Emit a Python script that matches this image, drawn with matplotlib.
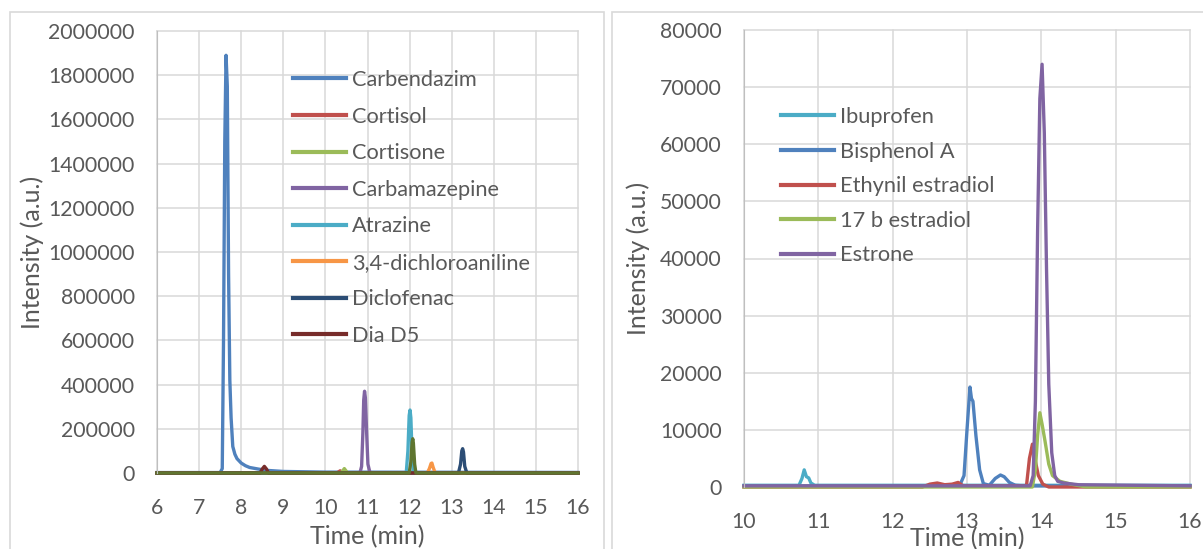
import matplotlib.pyplot as plt
from matplotlib.patches import Rectangle

# ---- left chart data (time in min, intensity in a.u.) ----
carbendazim_t = [6, 7.5, 7.55, 7.58, 7.61, 7.64, 7.67, 7.70, 7.73, 7.76, 7.8, 7.85, 7.9, 8.0, 8.1, 8.2, 8.4, 8.6, 9.0, 10, 16]
carbendazim_y = [2000, 2000, 20000, 600000, 1500000, 1890000, 1750000, 900000, 420000, 250000, 120000, 85000, 65000, 45000, 33000, 25000, 18000, 12000, 7000, 4000, 2500]
cortisol_t = [6, 10.27, 10.32, 10.35, 10.38, 10.43, 16]
cortisol_y = [0, 0, 6000, 10000, 6000, 0, 0]
cortisone_t = [6, 10.37, 10.42, 10.45, 10.48, 10.53, 16]
cortisone_y = [0, 0, 12000, 20000, 12000, 0, 0]
carbamazepine_t = [6, 10.82, 10.86, 10.89, 10.91, 10.93, 10.95, 10.98, 11.01, 11.06, 16]
carbamazepine_y = [0, 0, 30000, 180000, 330000, 370000, 340000, 180000, 40000, 0, 0]
atrazine_t = [6, 11.92, 11.96, 11.99, 12.01, 12.03, 12.06, 12.09, 16]
atrazine_y = [0, 0, 100000, 260000, 285000, 250000, 80000, 0, 0]
dca_t = [6, 12.42, 12.47, 12.51, 12.53, 12.56, 12.61, 16]
dca_y = [0, 0, 20000, 43000, 45000, 25000, 0, 0]
diclofenac_t = [6, 13.16, 13.21, 13.24, 13.26, 13.28, 13.31, 13.36, 16]
diclofenac_y = [0, 0, 40000, 100000, 110000, 95000, 30000, 0, 0]
diad5_t = [6, 8.45, 8.5, 8.55, 8.6, 8.65, 16]
diad5_y = [0, 0, 18000, 30000, 18000, 0, 0]
olive_t = [6, 11.99, 12.03, 12.06, 12.075, 12.09, 12.12, 12.15, 16]
olive_y = [0, 0, 50000, 140000, 155000, 135000, 40000, 0, 0]

# ---- right chart data ----
ibuprofen_t = [10, 10.74, 10.78, 10.81, 10.84, 10.87, 10.9, 10.95, 16]
ibuprofen_y = [300, 300, 1500, 3000, 1800, 1600, 700, 300, 300]
bpa_t = [10, 12.9, 12.96, 13.0, 13.04, 13.06, 13.08, 13.12, 13.17, 13.22, 13.3, 13.38, 13.45, 13.5, 13.57, 13.65, 13.75, 16]
bpa_y = [200, 200, 2000, 10000, 17500, 15500, 15000, 9000, 3000, 600, 300, 1500, 2100, 1800, 800, 300, 200, 200]
ee_t = [10, 12.4, 12.5, 12.6, 12.7, 12.8, 12.88, 12.95, 13.8, 13.84, 13.88, 13.92, 13.96, 14.02, 14.1, 16]
ee_y = [0, 0, 500, 700, 400, 500, 800, 200, 200, 5000, 7500, 4500, 2000, 500, 0, 0]
e2_t = [10, 13.88, 13.92, 13.95, 13.98, 14.01, 14.05, 14.1, 14.15, 14.25, 14.4, 14.6, 16]
e2_y = [0, 0, 3000, 9000, 13000, 11000, 8000, 4000, 2000, 1000, 500, 0, 0]
estrone_t = [10, 13.85, 13.89, 13.92, 13.95, 13.98, 14.01, 14.04, 14.07, 14.1, 14.14, 14.18, 14.22, 14.3, 14.5, 16]
estrone_y = [200, 200, 2000, 15000, 45000, 68000, 74000, 62000, 38000, 18000, 6000, 2000, 1000, 700, 400, 200]

left_series = [
    ("Carbendazim", carbendazim_t, carbendazim_y, "#4F81BD"),
    ("Cortisol", cortisol_t, cortisol_y, "#C0504D"),
    ("Cortisone", cortisone_t, cortisone_y, "#9BBB59"),
    ("Carbamazepine", carbamazepine_t, carbamazepine_y, "#8064A2"),
    ("Atrazine", atrazine_t, atrazine_y, "#4BACC6"),
    ("3,4-dichloroaniline", dca_t, dca_y, "#F79646"),
    ("Diclofenac", diclofenac_t, diclofenac_y, "#2C4D75"),
    ("Dia D5", diad5_t, diad5_y, "#772C2A"),
    (None, olive_t, olive_y, "#5F7530"),
]
right_series = [
    ("Ibuprofen", ibuprofen_t, ibuprofen_y, "#4BACC6"),
    ("Bisphenol A", bpa_t, bpa_y, "#4F81BD"),
    ("Ethynil estradiol", ee_t, ee_y, "#C0504D"),
    ("17 b estradiol", e2_t, e2_y, "#9BBB59"),
    ("Estrone", estrone_t, estrone_y, "#8064A2"),
]

plt.rcParams['font.family'] = ['Lato', 'DejaVu Sans']
txt = "#595959"
W, H = 1203, 549

fig = plt.figure(figsize=(W / 100, H / 100), dpi=100)

# chart frames
fig.patches.append(Rectangle((10 / W, -0.1), 594 / W, 1.1 - 12 / H, transform=fig.transFigure,
                             fill=False, edgecolor="#D9D9D9", lw=1.2))
fig.patches.append(Rectangle((612 / W, -0.1), 600 / W, 1.1 - 12 / H, transform=fig.transFigure,
                             fill=False, edgecolor="#D9D9D9", lw=1.2))


def make_axes(box, series, xlim, ylim, xticks, yticks, legend_xy, labelspacing):
    x0, y0, x1, y1 = box
    ax = fig.add_axes([x0 / W, 1 - y1 / H, (x1 - x0) / W, (y1 - y0) / H])
    for label, t, y, c in series:
        ax.plot(t, y, color=c, lw=2.4, label=label if label else "_nolegend_", clip_on=False)
    ax.set_xlim(*xlim)
    ax.set_ylim(*ylim)
    ax.set_xticks(xticks)
    ax.set_yticks(yticks)
    ax.set_yticklabels([str(v) for v in yticks])
    ax.grid(True, color="#D9D9D9", lw=1.1)
    ax.set_axisbelow(True)
    for gl in ax.get_xgridlines() + ax.get_ygridlines():
        gl.set_clip_on(False)
    for s in ["top", "right", "bottom"]:
        ax.spines[s].set_visible(False)
    ax.spines["left"].set_color("#BFBFBF")
    ax.tick_params(length=0, labelsize=15.3, colors=txt)
    ax.tick_params(axis="x", pad=18)
    ax.tick_params(axis="y", pad=16)
    ax.set_xlabel("Time (min)", fontsize=18, color=txt)
    ax.set_ylabel("Intensity (a.u.)", fontsize=18, color=txt)
    leg = ax.legend(loc="upper left", bbox_to_anchor=(legend_xy[0] / W, 1 - legend_xy[1] / H),
                    bbox_transform=fig.transFigure, frameon=False, fontsize=15.7,
                    handlelength=2.44, handletextpad=0.25, labelspacing=labelspacing,
                    borderpad=0, borderaxespad=0)
    for t in leg.get_texts():
        t.set_color(txt)
    for h in leg.get_lines():
        h.set_linewidth(3)
    return ax


ax1 = make_axes((157, 31, 578, 473), left_series, (6, 16), (0, 2000000),
                range(6, 17), list(range(0, 2000001, 200000)), (293, 70), 0.76)
ax1.yaxis.set_label_coords(-0.268, 0.5)
ax1.xaxis.set_label_coords(0.5, -0.118)

ax2 = make_axes((744, 30, 1190, 487), right_series, (10, 16), (0, 80000),
                range(10, 17), list(range(0, 80001, 10000)), (781, 107), 0.67)
ax2.yaxis.set_label_coords(-0.211, 0.5)
ax2.xaxis.set_label_coords(0.5, -0.087)

fig.savefig("out.png", dpi=100)
